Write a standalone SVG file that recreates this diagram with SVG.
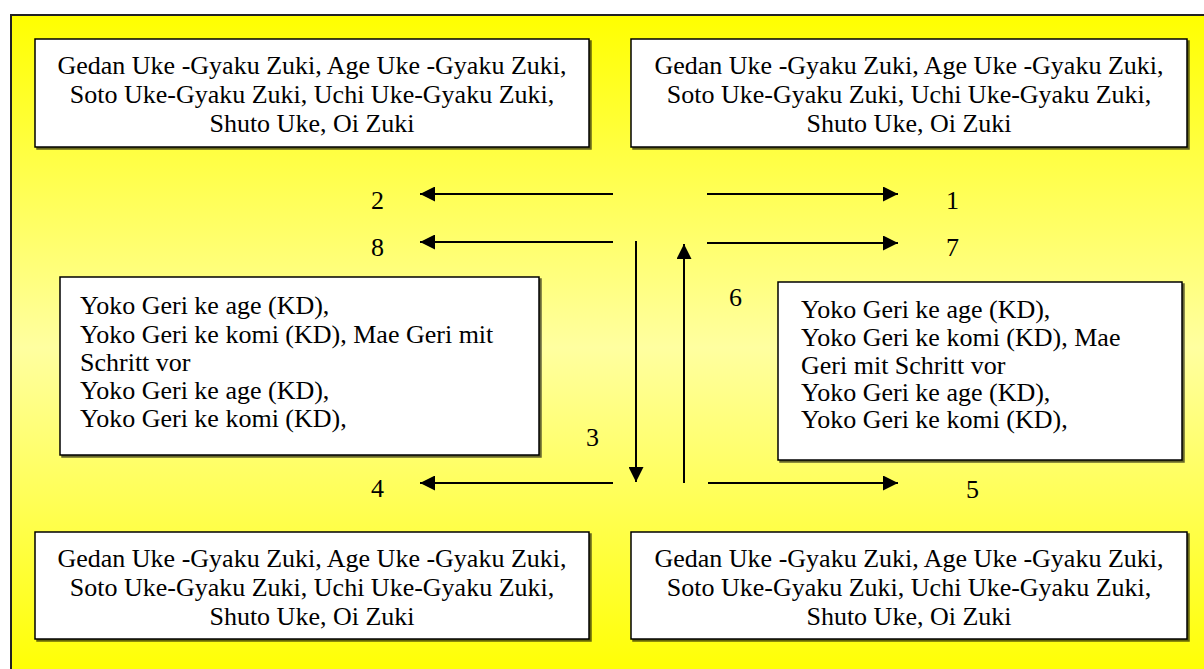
<svg xmlns="http://www.w3.org/2000/svg" width="1204" height="669" viewBox="0 0 1204 669">
<defs>
<linearGradient id="bg" x1="0" y1="0" x2="0" y2="1">
<stop offset="0" stop-color="#ffff00"/>
<stop offset="0.5" stop-color="#ffffa0"/>
<stop offset="1" stop-color="#ffff00"/>
</linearGradient>
<marker id="ah" viewBox="0 0 15 15" refX="15" refY="7.5" markerWidth="15" markerHeight="15" markerUnits="userSpaceOnUse" orient="auto">
<path d="M0,0 L15,7.5 L0,15 Z" fill="#000"/>
</marker>
<filter id="sh" x="-5%" y="-5%" width="110%" height="110%">
<feDropShadow dx="2" dy="2" stdDeviation="0.5" flood-color="#000" flood-opacity="0.6"/>
</filter>
</defs>
<style>
.box{fill:#fff;stroke:#000;stroke-width:1.5;filter:url(#sh)}
.t{font-family:"Liberation Serif","Times New Roman",serif;font-size:26px;fill:#000}
.c{text-anchor:middle}
.ln{stroke:#000;stroke-width:2;fill:none}
.ar{marker-end:url(#ah)}
</style>
<rect x="11" y="15" width="1200" height="665" fill="url(#bg)" stroke="#222" stroke-width="2"/>
<g id="box-top-left">
<rect class="box" x="35" y="39" width="554" height="108"/>
<text class="t c" x="312" y="74">Gedan Uke -Gyaku Zuki, Age Uke -Gyaku Zuki,</text>
<text class="t c" x="312" y="103">Soto Uke-Gyaku Zuki, Uchi Uke-Gyaku Zuki,</text>
<text class="t c" x="312" y="132">Shuto Uke, Oi Zuki</text>
</g>
<g id="box-top-right">
<rect class="box" x="631" y="39" width="556" height="108"/>
<text class="t c" x="909" y="74">Gedan Uke -Gyaku Zuki, Age Uke -Gyaku Zuki,</text>
<text class="t c" x="909" y="103">Soto Uke-Gyaku Zuki, Uchi Uke-Gyaku Zuki,</text>
<text class="t c" x="909" y="132">Shuto Uke, Oi Zuki</text>
</g>
<g id="box-mid-left">
<rect class="box" x="60" y="277" width="479" height="178"/>
<text class="t" x="80" y="314">Yoko Geri ke age (KD),</text>
<text class="t" x="80" y="343">Yoko Geri ke komi (KD), Mae Geri mit</text>
<text class="t" x="80" y="371">Schritt vor</text>
<text class="t" x="80" y="399">Yoko Geri ke age (KD),</text>
<text class="t" x="80" y="427">Yoko Geri ke komi (KD),</text>
</g>
<g id="box-mid-right">
<rect class="box" x="778" y="282" width="404" height="178"/>
<text class="t" x="801" y="318">Yoko Geri ke age (KD),</text>
<text class="t" x="801" y="346">Yoko Geri ke komi (KD), Mae</text>
<text class="t" x="801" y="374">Geri mit Schritt vor</text>
<text class="t" x="801" y="401">Yoko Geri ke age (KD),</text>
<text class="t" x="801" y="428">Yoko Geri ke komi (KD),</text>
</g>
<g id="box-bottom-left">
<rect class="box" x="35" y="532" width="554" height="107"/>
<text class="t c" x="312" y="567">Gedan Uke -Gyaku Zuki, Age Uke -Gyaku Zuki,</text>
<text class="t c" x="312" y="596">Soto Uke-Gyaku Zuki, Uchi Uke-Gyaku Zuki,</text>
<text class="t c" x="312" y="625">Shuto Uke, Oi Zuki</text>
</g>
<g id="box-bottom-right">
<rect class="box" x="631" y="532" width="556" height="107"/>
<text class="t c" x="909" y="567">Gedan Uke -Gyaku Zuki, Age Uke -Gyaku Zuki,</text>
<text class="t c" x="909" y="596">Soto Uke-Gyaku Zuki, Uchi Uke-Gyaku Zuki,</text>
<text class="t c" x="909" y="625">Shuto Uke, Oi Zuki</text>
</g>
<g id="labels">
<text class="t" x="371" y="209">2</text>
<text class="t" x="946" y="209">1</text>
<text class="t" x="371" y="256">8</text>
<text class="t" x="946" y="256">7</text>
<text class="t" x="729" y="306">6</text>
<text class="t" x="586" y="446">3</text>
<text class="t" x="371" y="497">4</text>
<text class="t" x="966" y="498">5</text>
</g>
<g id="connectors">
<line class="ln ar" x1="613" y1="194" x2="420" y2="194"/>
<line class="ln ar" x1="613" y1="242" x2="420" y2="242"/>
<line class="ln ar" x1="707" y1="194" x2="898" y2="194"/>
<line class="ln ar" x1="707" y1="243" x2="898" y2="243"/>
<line class="ln ar" x1="613" y1="483" x2="420" y2="483"/>
<line class="ln ar" x1="708" y1="483" x2="898" y2="483"/>
<line class="ln ar" x1="636" y1="241" x2="636" y2="482"/>
<line class="ln ar" x1="684" y1="483" x2="684" y2="244"/>
</g>
</svg>
